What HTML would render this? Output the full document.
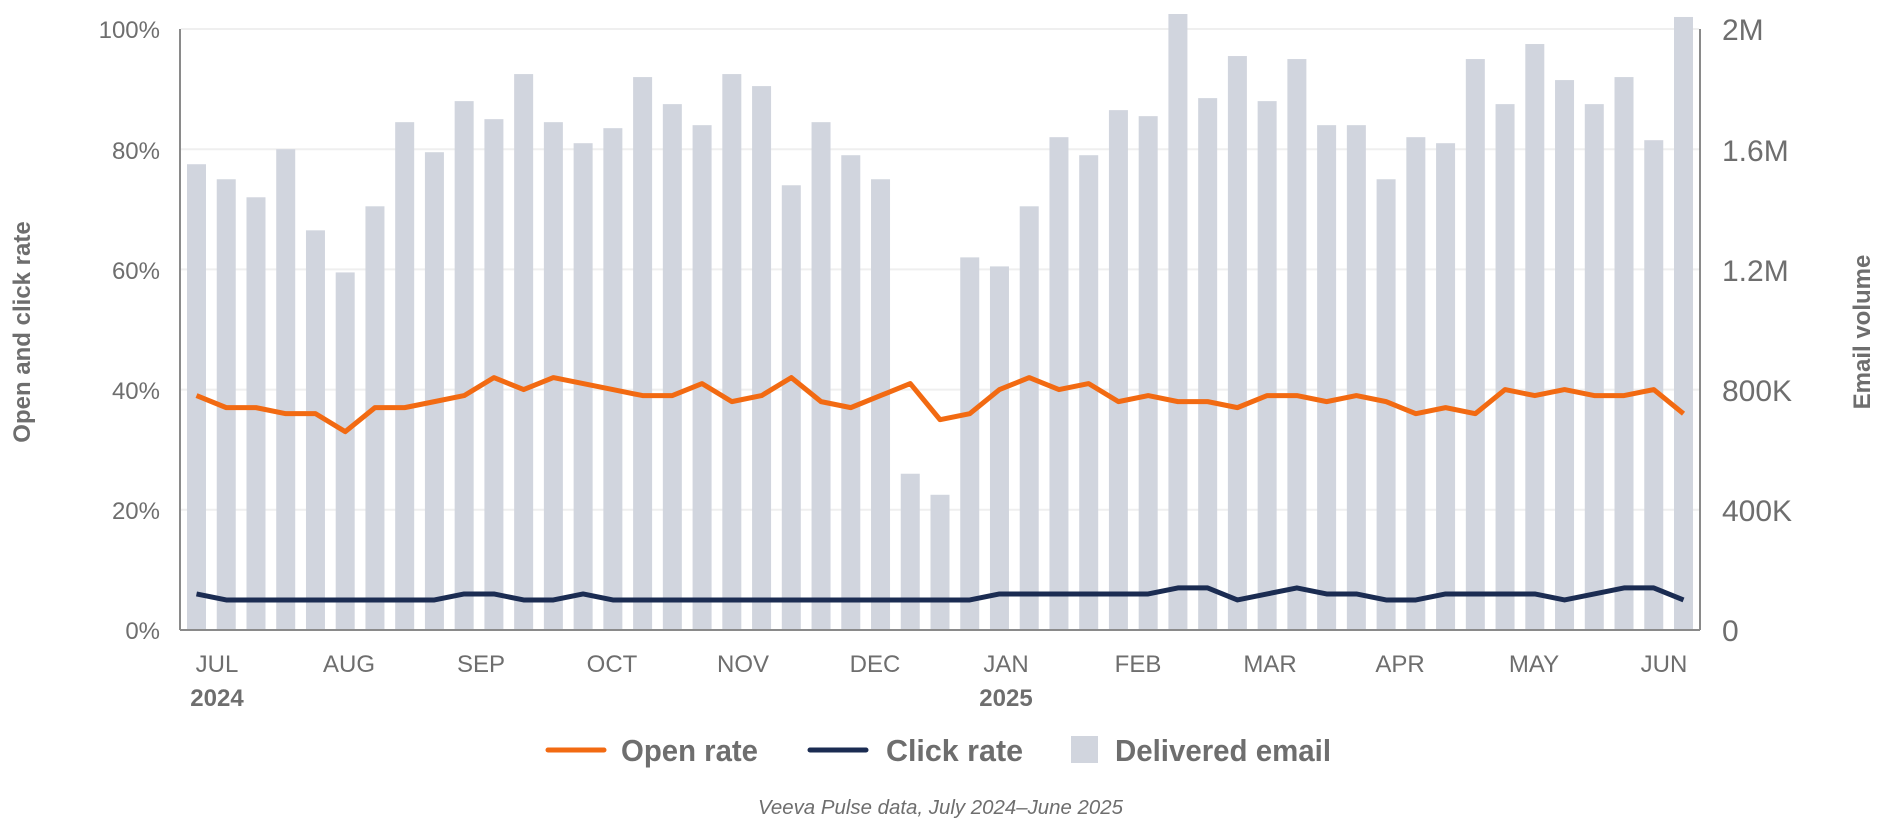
<!DOCTYPE html>
<html><head><meta charset="utf-8"><style>
html,body{margin:0;padding:0;background:#fff;width:1880px;height:836px;overflow:hidden}
svg text{font-family:"Liberation Sans Narrow","Liberation Sans",sans-serif;fill:#6e6e6e}
</style></head><body>
<svg id="s" width="1880" height="836" xmlns="http://www.w3.org/2000/svg">
<g id="grid"></g><g id="bars"></g><g id="lines"></g>
<line x1="180" y1="29" x2="180" y2="630" stroke="#8a8a8a" stroke-width="2"/>
<line x1="1700" y1="29" x2="1700" y2="630" stroke="#8a8a8a" stroke-width="2"/>
<line x1="180" y1="630" x2="1700" y2="630" stroke="#8a8a8a" stroke-width="2"/>
<g font-size="24" text-anchor="end">
<text x="160" y="38">100%</text><text x="160" y="159">80%</text><text x="160" y="279">60%</text>
<text x="160" y="399">40%</text><text x="160" y="519">20%</text><text x="160" y="639">0%</text>
</g>
<g font-size="30">
<text x="1722" y="40">2M</text><text x="1722" y="161">1.6M</text><text x="1722" y="281">1.2M</text>
<text x="1722" y="401">800K</text><text x="1722" y="521">400K</text><text x="1722" y="641">0</text>
</g>
<g font-size="24" text-anchor="middle">
<text x="217" y="672">JUL</text><text x="349" y="672">AUG</text><text x="481" y="672">SEP</text>
<text x="612" y="672">OCT</text><text x="743" y="672">NOV</text><text x="875" y="672">DEC</text>
<text x="1006" y="672">JAN</text><text x="1138" y="672">FEB</text><text x="1270" y="672">MAR</text>
<text x="1400" y="672">APR</text><text x="1534" y="672">MAY</text><text x="1664" y="672">JUN</text>
<text x="217" y="706" font-weight="bold">2024</text><text x="1006" y="706" font-weight="bold">2025</text>
</g>
<text font-size="24" font-weight="bold" text-anchor="middle" transform="translate(30,332) rotate(-90)">Open and click rate</text>
<text font-size="24" font-weight="bold" text-anchor="middle" transform="translate(1870,332) rotate(-90)">Email volume</text>
<line x1="548" y1="750" x2="604" y2="750" stroke="#f26a12" stroke-width="5" stroke-linecap="round"/>
<text x="621" y="761" font-size="31" font-weight="bold" textLength="137" lengthAdjust="spacingAndGlyphs">Open rate</text>
<line x1="810" y1="750" x2="866" y2="750" stroke="#1b2c52" stroke-width="5" stroke-linecap="round"/>
<text x="886" y="761" font-size="31" font-weight="bold" textLength="137" lengthAdjust="spacingAndGlyphs">Click rate</text>
<rect x="1071" y="736" width="27" height="27" fill="#d1d5de"/>
<text x="1115" y="761" font-size="31" font-weight="bold" textLength="216" lengthAdjust="spacingAndGlyphs">Delivered email</text>
<text x="758" y="814" font-size="20" font-style="italic" textLength="365" lengthAdjust="spacingAndGlyphs">Veeva Pulse data, July 2024–June 2025</text>
</svg>
<script>
(function(){
var bars=[77.5,75,72,80,66.5,59.5,70.5,84.5,79.5,88,85,92.5,84.5,81,83.5,92,87.5,84,92.5,90.5,74,84.5,79,75,26,22.5,62,60.5,70.5,82,79,86.5,85.5,102.5,88.5,95.5,88,95,84,84,75,82,81,95,87.5,97.5,91.5,87.5,92,81.5,102];
var open=[39,37,37,36,36,33,37,37,38,39,42,40,42,41,40,39,39,41,38,39,42,38,37,39,41,35,36,40,42,40,41,38,39,38,38,37,39,39,38,39,38,36,37,36,40,39,40,39,39,40,36];
var click=[6,5,5,5,5,5,5,5,5,6,6,5,5,6,5,5,5,5,5,5,5,5,5,5,5,5,5,6,6,6,6,6,6,7,7,5,6,7,6,6,5,5,6,6,6,6,5,6,7,7,5];
var NS="http://www.w3.org/2000/svg",T=29,B=630,H=B-T;
function el(n,a,p){var e=document.createElementNS(NS,n);for(var k in a)e.setAttribute(k,a[k]);document.getElementById(p).appendChild(e);}
for(var i=1;i<=5;i++){var y=B-H*i/5;el("line",{x1:181,x2:1699,y1:y,y2:y,stroke:"#efefef","stroke-width":2},"grid");}
function cx(i){return 196.5+i*29.74;}
for(var i=0;i<bars.length;i++){var h=H*bars[i]/100,ty=Math.max(B-h,14);el("rect",{x:cx(i)-9.5,y:ty,width:19,height:B-1-ty,fill:"#d1d5de"},"bars");}
function pts(a){return a.map(function(v,i){return cx(i)+","+(B-H*v/100)}).join(" ");}
el("polyline",{points:pts(open),fill:"none",stroke:"#f26a12","stroke-width":5,"stroke-linejoin":"round"},"lines");
el("polyline",{points:pts(click),fill:"none",stroke:"#1b2c52","stroke-width":5,"stroke-linejoin":"round"},"lines");
})();
</script>
</body></html>
